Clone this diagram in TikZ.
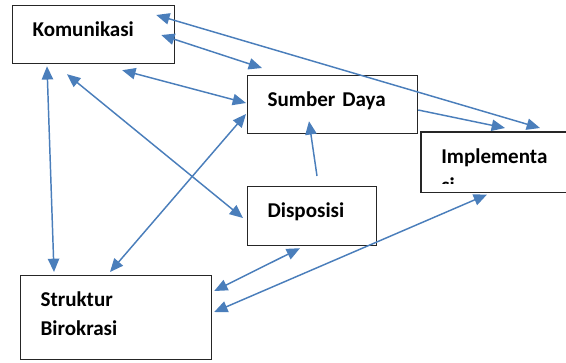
\documentclass[tikz,border=0pt]{standalone}
\usepackage{fontspec}
\setmainfont{Carlito}
\usetikzlibrary{arrows.meta}
\definecolor{lianblue}{RGB}{74,126,187}
\tikzset{
  kuang/.style={anchor=north west,inner xsep=15pt,inner ysep=0pt,text height=23.25pt,
    align=left,font=\fontsize{15.8pt}{21.75pt}\selectfont\bfseries},
  xian/.style={draw=black!85,line width=0.9pt},
  jian/.style={lianblue,line width=1.1pt,{Triangle[length=10pt,width=8.5pt]}-{Triangle[length=10pt,width=8.5pt]}},
  danjian/.style={lianblue,line width=1.1pt,-{Triangle[length=10pt,width=8.5pt]}}
}
\begin{document}
\begin{tikzpicture}[x=0.75pt,y=-0.75pt]
        \useasboundingbox (0,0) rectangle (566,362);
        %方框
        \node [kuang,xian,text width=91.5pt,text depth=20.25pt] (kom) at (12,5) {Komunikasi};
        \node [kuang,xian,text width=97.5pt,text depth=20.25pt] (sd) at (247,75) {Sumber Daya};
        \node [kuang,xian,text width=66.75pt,text depth=21pt] (disp) at (247,186) {Disposisi};
        \node [kuang,xian,text width=113.25pt,text depth=39.75pt] (struk) at (20,275) {Struktur\\Birokrasi};
        \node [kuang,inner xsep=0pt,xshift=15pt,text width=93.75pt,text depth=21.75pt] (impl) at (421,132) {Implementa\\si};
        \fill [white] (430,184) rectangle (480,198);
        \draw [xian] ([xshift=108.75pt]impl.north west) -- ([xshift=-15pt]impl.north west) -- ([xshift=-15pt]impl.south west) -- ++(108.75pt,0pt);
        %箭头
        \draw [jian] ([shift={(-19,10)}]kom.north east) -- ([shift={(99,-4)}]impl.north west);
        \draw [jian] ([shift={(-14,30)}]kom.north east) -- ([shift={(15,-7)}]sd.north west);
        \draw [jian] ([shift={(-53,6)}]kom.south east) -- ([shift={(-1,28)}]sd.north west);
        \draw [jian] ([shift={(35,2)}]kom.south west) -- ([shift={(34,-3)}]struk.north west);
        \draw [jian] ([shift={(55,10)}]kom.south west) -- ([shift={(-4,32)}]disp.north west);
        \draw [jian] ([shift={(-1,39)}]sd.north west) -- ([shift={(90,-3)}]struk.north west);
        \draw [danjian] ([shift={(0,35)}]sd.north east) -- ([shift={(64,-4)}]impl.north west);
        \draw [danjian] ([shift={(70,-10)}]disp.north west) -- ([shift={(62,-13)}]sd.south west);
        \draw [jian] ([shift={(53,2)}]disp.south west) -- ([shift={(2,16)}]struk.north east);
        \draw [jian] ([shift={(46,2)}]impl.south west) -- ([shift={(2,37)}]struk.north east);
\end{tikzpicture}
\end{document}
